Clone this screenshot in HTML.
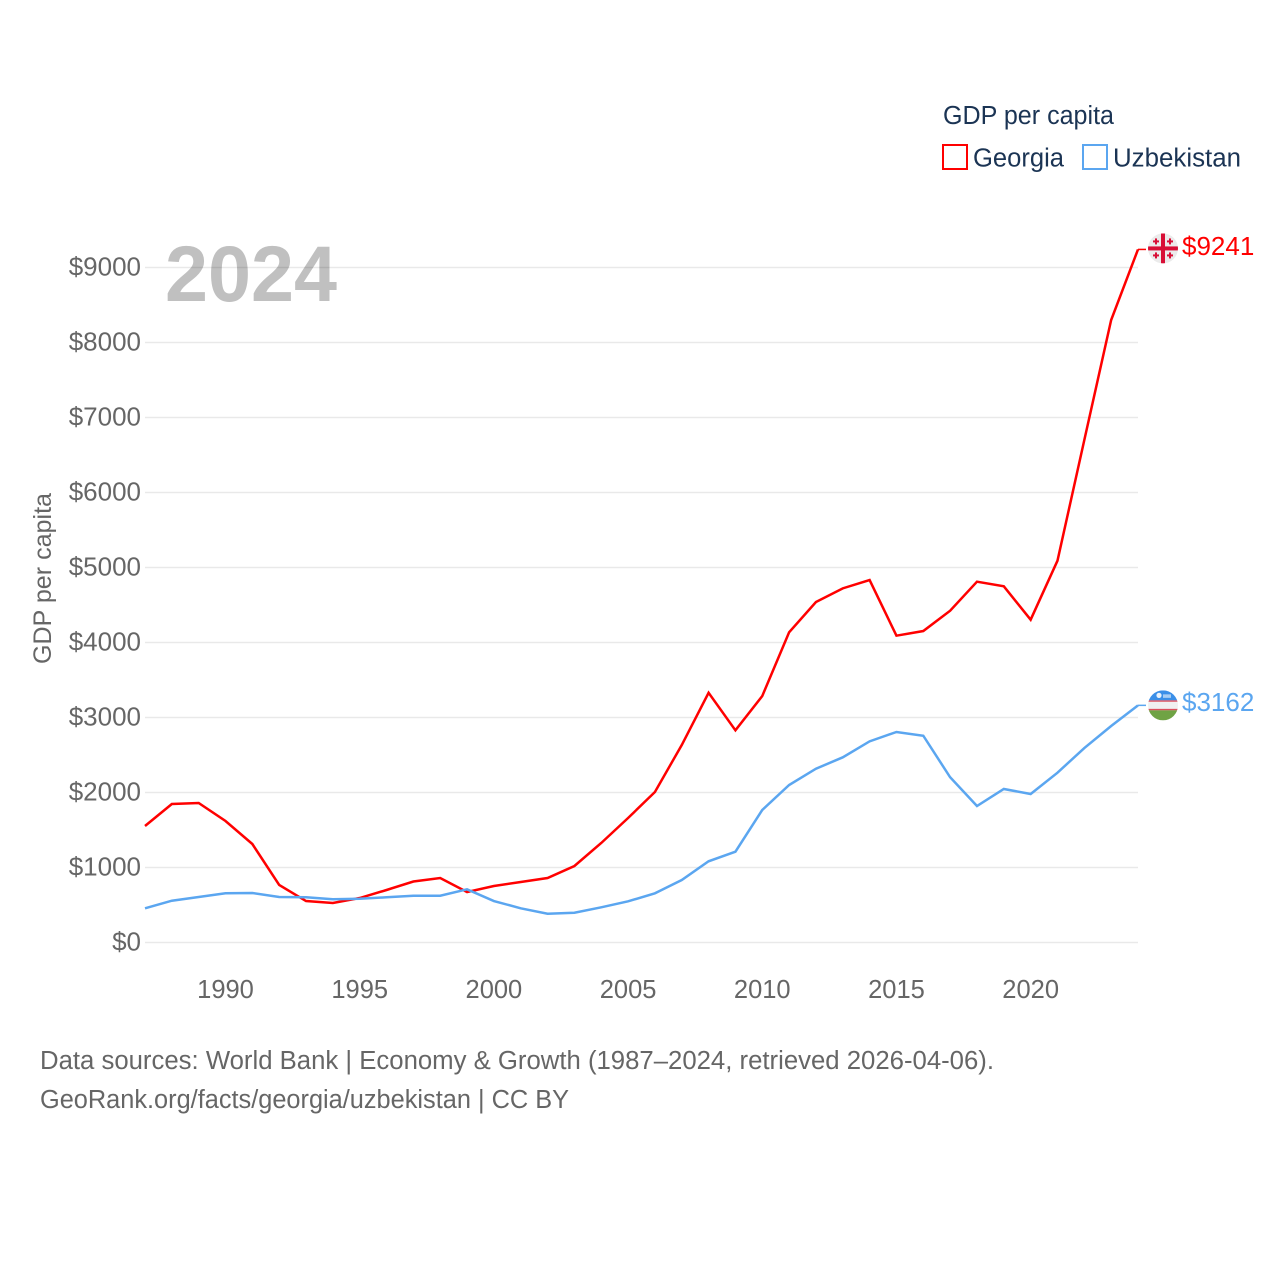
<!DOCTYPE html>
<html lang="en">
<head>
<meta charset="utf-8">
<title>GDP per capita: Georgia and Uzbekistan</title>
<style>
html,body{margin:0;padding:0;background:#fff;}
svg{display:block;font-family:"Liberation Sans",sans-serif;}
</style>
</head>
<body>
<svg id="chart" width="1280" height="1280" viewBox="0 0 1280 1280" xmlns="http://www.w3.org/2000/svg">
  <defs>
    <clipPath id="flag-clip-ge"><circle cx="0" cy="0" r="15"></circle></clipPath>
    <clipPath id="flag-clip-uz"><circle cx="0" cy="0" r="15"></circle></clipPath>
  </defs>
  <text x="165" y="301" font-size="79" font-weight="700" fill="#c0c0c0" textLength="172" lengthAdjust="spacingAndGlyphs">2024</text>
  <g id="grid"></g>
  <g id="y-ticks"></g>
  <g id="x-ticks"></g>
  <text transform="translate(51 664) rotate(-90)" font-size="25" fill="#666" textLength="171" lengthAdjust="spacingAndGlyphs">GDP per capita</text>
  <g id="series"></g>
  <g id="flag-ge">
    <circle r="15" fill="#ebebeb"></circle>
    <g clip-path="url(#flag-clip-ge)" fill="#d80f36">
      <rect x="-15" y="-2" width="30" height="4"></rect>
      <rect x="-2" y="-15" width="4" height="30"></rect>
      <rect x="-8" y="-10" width="2" height="6"></rect><rect x="-10" y="-8" width="6" height="2"></rect>
      <rect x="6" y="-10" width="2" height="6"></rect><rect x="4" y="-8" width="6" height="2"></rect>
      <rect x="-8" y="4" width="2" height="6"></rect><rect x="-10" y="6" width="6" height="2"></rect>
      <rect x="6" y="4" width="2" height="6"></rect><rect x="4" y="6" width="6" height="2"></rect>
    </g>
  </g>
  <g id="flag-uz">
    <g clip-path="url(#flag-clip-uz)">
      <rect x="-15" y="-15" width="30" height="10" fill="#3b8fe8"></rect>
      <rect x="-15" y="-5" width="30" height="1.5" fill="#dc4f5c"></rect>
      <rect x="-15" y="-3.5" width="30" height="7" fill="#f0f0f0"></rect>
      <rect x="-15" y="3.5" width="30" height="1.5" fill="#dc4f5c"></rect>
      <rect x="-15" y="5" width="30" height="10" fill="#6fa344"></rect>
      <circle cx="-4" cy="-10" r="2.6" fill="#eaf2fb"></circle>
      <rect x="0" y="-11" width="8" height="3.5" fill="#a9cdf3"></rect>
    </g>
  </g>
  <g id="end-labels"></g>
  <g id="legend">
    <text x="943" y="124" font-size="25.5" fill="#1b3454" textLength="171" lengthAdjust="spacingAndGlyphs">GDP per capita</text>
    <g>
      <rect x="943" y="145" width="24" height="24" fill="#fff" stroke="#ff0000" stroke-width="2"></rect>
      <text x="973" y="166.5" font-size="25.5" fill="#1b3454" textLength="91" lengthAdjust="spacingAndGlyphs">Georgia</text>
    </g>
    <g>
      <rect x="1083" y="145" width="24" height="24" fill="#fff" stroke="#5ba6f0" stroke-width="2"></rect>
      <text x="1113" y="166.5" font-size="25.5" fill="#1b3454" textLength="128" lengthAdjust="spacingAndGlyphs">Uzbekistan</text>
    </g>
  </g>
  <text x="40" y="1069" font-size="25.5" fill="#666" textLength="954" lengthAdjust="spacingAndGlyphs">Data sources: World Bank | Economy &amp; Growth (1987–2024, retrieved 2026-04-06).</text>
  <text x="40" y="1108" font-size="25.5" fill="#666" textLength="529" lengthAdjust="spacingAndGlyphs">GeoRank.org/facts/georgia/uzbekistan | CC BY</text>
</svg>
<script>
const years = [1987,1988,1989,1990,1991,1992,1993,1994,1995,1996,1997,1998,1999,2000,2001,2002,2003,2004,2005,2006,2007,2008,2009,2010,2011,2012,2013,2014,2015,2016,2017,2018,2019,2020,2021,2022,2023,2024];
const georgiaValues = [1553,1847,1860,1620,1313,767,553,527,593,700,813,860,673,753,807,860,1020,1327,1660,2007,2633,3330,2829,3287,4136,4540,4722,4833,4091,4153,4424,4811,4749,4304,5091,6700,8300,9241];
const uzbekistanValues = [456,557,607,656,660,607,603,576,584,603,624,624,709,553,456,384,397,469,549,656,833,1083,1211,1767,2100,2317,2469,2682,2807,2757,2203,1820,2047,1980,2264,2593,2887,3162];
const yTickValues = [0,1000,2000,3000,4000,5000,6000,7000,8000,9000];
const xTickValues = [1990,1995,2000,2005,2010,2015,2020];

const SVG_NS = 'http://www.w3.org/2000/svg';
const plotLeft = 145, plotRight = 1138, plotBottom = 942.5, pxPerUnit = 0.075;
function xScale(year) {
  return plotLeft + (year - years[0]) * (plotRight - plotLeft) / (years[years.length - 1] - years[0]);
}
function yScale(value) {
  return plotBottom - value * pxPerUnit;
}
function make(tag, attrs, parent, text) {
  const el = document.createElementNS(SVG_NS, tag);
  Object.keys(attrs).forEach(function (k) { el.setAttribute(k, attrs[k]); });
  if (text !== undefined) el.textContent = text;
  parent.appendChild(el);
  return el;
}

const gridGroup = document.getElementById('grid');
const yTickGroup = document.getElementById('y-ticks');
yTickValues.forEach(function (v) {
  const line = make('line', {x1: plotLeft, x2: plotRight, y1: yScale(v), y2: yScale(v), stroke: 'rgba(0,0,0,0.085)', 'stroke-width': 1.4}, gridGroup);
  
  
  const label = make('text', {x: 141, y: yScale(v) + 8, 'text-anchor': 'end', 'font-size': 26, fill: '#666'}, yTickGroup, '$' + v);
  
  
});

const xTickGroup = document.getElementById('x-ticks');
xTickValues.forEach(function (yr) {
  const label = make('text', {x: xScale(yr), y: 998, 'text-anchor': 'middle', 'font-size': 25.5, fill: '#666'}, xTickGroup, String(yr));
  
  
});

function pathFor(values) {
  return values.map(function (v, i) {
    return (i ? 'L' : 'M') + xScale(years[i]).toFixed(2) + ' ' + yScale(v).toFixed(2);
  }).join(' ');
}
const seriesGroup = document.getElementById('series');
const labelGroup = document.getElementById('end-labels');

const georgiaLast = georgiaValues[georgiaValues.length - 1];
const uzbekistanLast = uzbekistanValues[uzbekistanValues.length - 1];

const georgiaLine = make('path', {d: pathFor(georgiaValues), fill: 'none', stroke: '#ff0000', 'stroke-width': 2.5, 'stroke-linejoin': 'miter'}, seriesGroup);


const uzbekistanLine = make('path', {d: pathFor(uzbekistanValues), fill: 'none', stroke: '#5ba6f0', 'stroke-width': 2.5, 'stroke-linejoin': 'miter'}, seriesGroup);



const georgiaLeader = make('line', {x1: plotRight, x2: 1146, y1: yScale(georgiaLast), y2: yScale(georgiaLast), stroke: '#ff0000', 'stroke-width': 1.5}, seriesGroup);


const uzbekistanLeader = make('line', {x1: plotRight, x2: 1146, y1: yScale(uzbekistanLast), y2: yScale(uzbekistanLast), stroke: '#5ba6f0', 'stroke-width': 1.5}, seriesGroup);



document.getElementById('flag-ge').setAttribute('transform', 'translate(1163 ' + (yScale(georgiaLast) - 1) + ')');
document.getElementById('flag-uz').setAttribute('transform', 'translate(1163 ' + yScale(uzbekistanLast) + ')');

const georgiaLabel = make('text', {x: 1182, y: yScale(georgiaLast) + 5.5, 'font-size': 26, fill: '#ff0000'}, labelGroup, '$' + georgiaLast);


const uzbekistanLabel = make('text', {x: 1182, y: yScale(uzbekistanLast) + 5.5, 'font-size': 26, fill: '#5ba6f0'}, labelGroup, '$' + uzbekistanLast);


</script>
</body>
</html>
